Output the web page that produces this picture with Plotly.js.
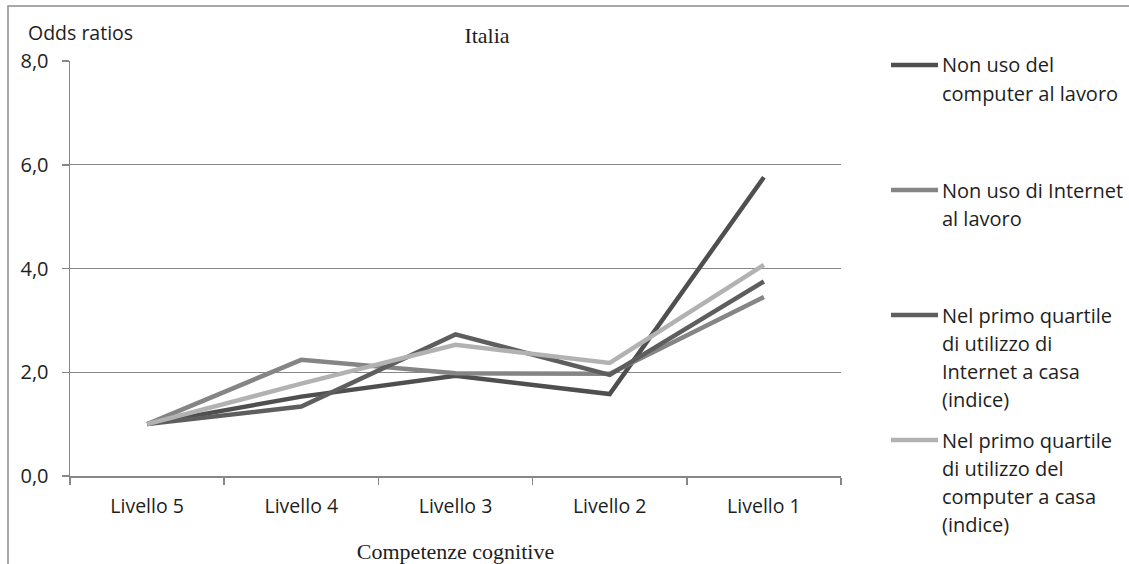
<!DOCTYPE html>
<html>
<head>
<meta charset="utf-8">
<script src="https://cdn.plot.ly/plotly-3.0.1.min.js"></script>
<style>html,body{margin:0;padding:0;background:#fff;}#chart{width:1129px;height:564px;}</style>
</head>
<body>
<div id="chart"></div>
<script>
// ---- data ----
var categories = ['Livello 5', 'Livello 4', 'Livello 3', 'Livello 2', 'Livello 1'];
var nonUsoComputerLavoro = [1.0, 1.53, 1.93, 1.58, 5.76];
var nonUsoInternetLavoro = [1.0, 2.24, 1.98, 1.97, 3.45];
var quartileInternetCasa = [1.0, 1.34, 2.73, 1.95, 3.75];
var quartileComputerCasa = [1.0, 1.78, 2.53, 2.18, 4.07];
var seriesNames = [
  'Non uso del computer al lavoro',
  'Non uso di Internet al lavoro',
  'Nel primo quartile di utilizzo di Internet a casa (indice)',
  'Nel primo quartile di utilizzo del computer a casa (indice)'
];
var legendLines = [
  ['Non uso del', 'computer al lavoro'],
  ['Non uso di Internet', 'al lavoro'],
  ['Nel primo quartile', 'di utilizzo di', 'Internet a casa', '(indice)'],
  ['Nel primo quartile', 'di utilizzo del', 'computer a casa', '(indice)']
];
var yTicks = [0, 2, 4, 6, 8];
var chartTitle = 'Italia';
var yLabel = 'Odds ratios';
var xLabel = 'Competenze cognitive';

// ---- styles ----
var colors = ['#4f4f4f', '#858585', '#5e5e5e', '#b2b2b2'];
var seriesValues = [nonUsoComputerLavoro, nonUsoInternetLavoro, quartileInternetCasa, quartileComputerCasa];
var sans = 'Open Sans, Noto Sans, sans-serif';
var serif = 'Liberation Serif, Times New Roman, serif';
var txt = '#1e1e1e';
var W = 1129, H = 564;
var mL = 70, mR = 288, mT = 61, mB = 88;
var pw = W - mL - mR, ph = H - mT - mB;
function px(x) { return (x - mL) / pw; }
function py(y) { return (H - mB - y) / ph; }

var traces = seriesValues.map(function (vals, i) {
  return {
    type: 'scatter', mode: 'lines', x: categories, y: vals, name: seriesNames[i],
    line: { color: colors[i], width: 4.5 }, showlegend: false, hoverinfo: 'x+y+name'
  };
});

var shapes = [
  { type: 'rect', xref: 'paper', yref: 'paper', x0: px(8), x1: px(1200), y0: py(6), y1: py(640),
    line: { color: '#8c8c8c', width: 1.5 }, fillcolor: 'rgba(0,0,0,0)', layer: 'below' }
];
var annotations = [
  { text: yLabel, xref: 'paper', yref: 'paper', x: px(26), y: py(32), xanchor: 'left', yanchor: 'middle',
    showarrow: false, font: { family: sans, size: 19.5, color: txt } }
];
var legendTop = [65, 190, 315, 440];
legendLines.forEach(function (lines, i) {
  shapes.push({ type: 'line', xref: 'paper', yref: 'paper', x0: px(891), x1: px(938), y0: py(legendTop[i]), y1: py(legendTop[i]),
    line: { color: colors[i], width: 4.5 } });
  lines.forEach(function (t, k) {
    annotations.push({ text: t, xref: 'paper', yref: 'paper', x: px(940), y: py(legendTop[i] + k * 28.3),
      xanchor: 'left', yanchor: 'middle', showarrow: false, font: { family: sans, size: 20, color: txt } });
  });
});

var layout = {
  width: W, height: H,
  margin: { l: mL, r: mR, t: mT, b: mB, pad: 0 },
  paper_bgcolor: '#fff', plot_bgcolor: '#fff',
  separators: ',.',
  showlegend: false,
  title: { text: chartTitle, x: px(487), xref: 'paper', xanchor: 'center', y: 1 - 35 / H, yref: 'container', yanchor: 'middle',
    font: { family: serif, size: 22, color: txt } },
  xaxis: {
    type: 'category', categoryorder: 'array', categoryarray: categories, range: [-0.5, 4.5],
    showgrid: false, zeroline: false, showline: true, linecolor: '#878787', linewidth: 1.5,
    ticks: 'outside', tickson: 'boundaries', ticklen: 7, tickcolor: '#878787', tickwidth: 1.5,
    tickfont: { family: sans, size: 19.5, color: txt }, ticklabelstandoff: 12,
    title: { text: xLabel, font: { family: serif, size: 22, color: txt }, standoff: 34 }
  },
  yaxis: {
    range: [0, 8], tickvals: yTicks, tickformat: '.1f',
    showgrid: true, gridcolor: '#878787', gridwidth: 1.2, zeroline: false,
    showline: true, linecolor: '#878787', linewidth: 1.5,
    ticks: 'outside', ticklen: 7, tickcolor: '#878787', tickwidth: 1.5,
    tickfont: { family: sans, size: 20, color: txt }, ticklabelstandoff: 9
  },
  shapes: shapes,
  annotations: annotations
};

Plotly.newPlot('chart', traces, layout, { displayModeBar: false, staticPlot: true });
</script>
</body>
</html>
